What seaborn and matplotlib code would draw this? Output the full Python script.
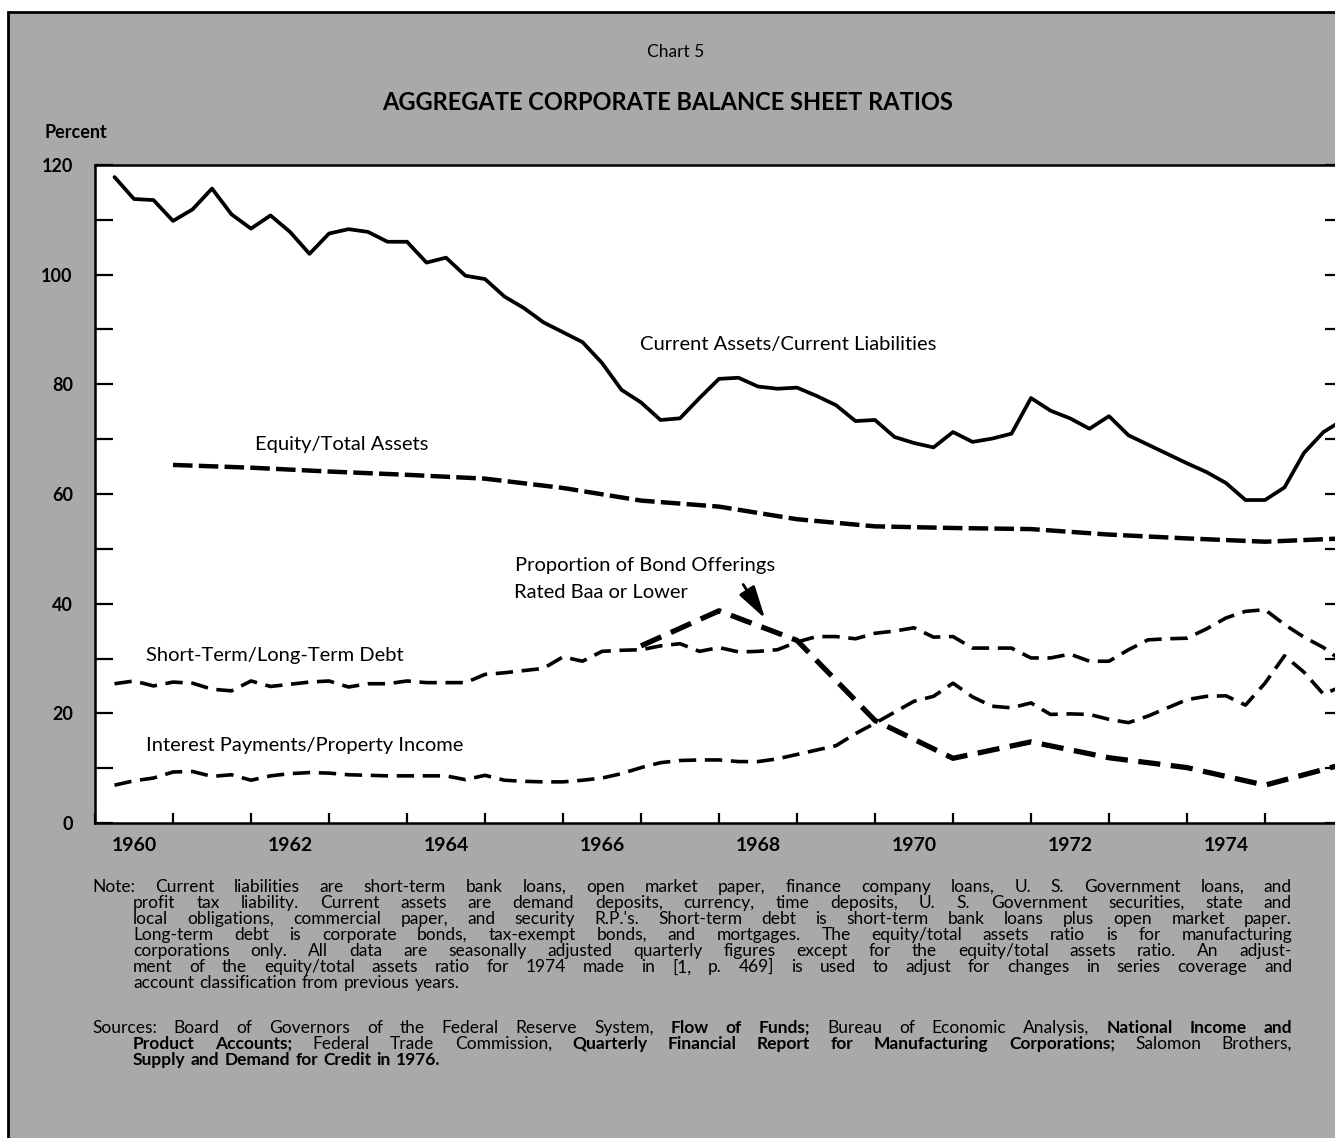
import numpy as np
import pandas as pd
import matplotlib
matplotlib.use('Agg')
import matplotlib.pyplot as plt
import seaborn as sns
from matplotlib.patches import Rectangle

# ---- data ----
# quarterly series, first point = 1960 Q1
quarter_x = np.arange(1960.25, 1976.01, 0.25)

current_ratio = [117.8, 113.8, 113.6, 109.8, 111.9, 115.7, 111.0, 108.4, 110.8, 107.8,
                 103.8, 107.5, 108.3, 107.8, 106.0, 106.0, 102.2, 103.1, 99.8, 99.2,
                 96.0, 93.9, 91.3, 89.5, 87.7, 83.9, 79.0, 76.7, 73.5, 73.8,
                 77.5, 81.0, 81.2, 79.6, 79.2, 79.4, 77.9, 76.2, 73.3, 73.5,
                 70.4, 69.3, 68.5, 71.3, 69.5, 70.1, 71.0, 77.5, 75.2, 73.8,
                 71.9, 74.2, 70.7, 69.0, 67.3, 65.6, 64.0, 62.0, 58.9, 58.9,
                 61.2, 67.5, 71.3, 73.5]

short_long_debt = [25.4, 25.9, 25.0, 25.7, 25.5, 24.4, 24.1, 25.9, 24.9, 25.3,
                   25.7, 25.9, 24.8, 25.4, 25.4, 25.9, 25.6, 25.6, 25.6, 27.1,
                   27.4, 27.8, 28.2, 30.3, 29.5, 31.3, 31.5, 31.6, 32.3, 32.7,
                   31.3, 32.0, 31.2, 31.3, 31.6, 33.0, 34.0, 34.0, 33.6, 34.6,
                   35.0, 35.6, 33.9, 34.0, 31.9, 31.9, 31.9, 30.1, 30.1, 30.8,
                   29.5, 29.5, 31.6, 33.4, 33.6, 33.7, 35.4, 37.4, 38.6, 38.9,
                   36.2, 33.9, 32.0, 29.4]

interest_income = [6.9, 7.7, 8.2, 9.3, 9.4, 8.5, 8.8, 7.8, 8.6, 9.0,
                   9.2, 9.1, 8.8, 8.7, 8.6, 8.6, 8.6, 8.6, 7.9, 8.7,
                   7.8, 7.6, 7.5, 7.5, 7.8, 8.2, 9.0, 10.1, 11.0, 11.4,
                   11.5, 11.5, 11.2, 11.2, 11.7, 12.5, 13.3, 14.1, 16.3, 18.2,
                   20.2, 22.2, 23.1, 25.5, 23.0, 21.3, 21.0, 21.9, 19.8, 19.9,
                   19.8, 18.9, 18.3, 19.5, 21.0, 22.5, 23.1, 23.2, 21.5, 25.5,
                   30.5, 27.5, 23.5, 25.0]

# annual series
equity_years = list(range(1961, 1977))
equity_assets = [65.3, 64.8, 64.1, 63.5, 62.8, 61.1, 58.8, 57.7, 55.4, 54.1,
                 53.8, 53.6, 52.6, 51.9, 51.3, 51.9]

bond_years = list(range(1967, 1977))
bond_baa = [32.3, 38.7, 33.3, 18.7, 11.8, 14.8, 11.9, 10.1, 6.9, 10.7]

year_labels = ['1960', '1962', '1964', '1966', '1968', '1970', '1972', '1974']

note_lines = [
    "Note:  Current liabilities are short-term bank loans, open market paper, finance company loans, U. S. Government loans, and",
    "profit tax liability.  Current assets are demand deposits, currency, time deposits, U. S. Government securities, state and",
    "local obligations, commercial paper, and security R.P.'s.  Short-term debt is short-term bank loans plus open market paper.",
    "Long-term debt is corporate bonds, tax-exempt bonds, and mortgages.  The equity/total assets ratio is for manufacturing",
    "corporations only.  All data are seasonally adjusted quarterly figures except for the equity/total assets ratio.  An adjust-",
    "ment of the equity/total assets ratio for 1974 made in [1, p. 469] is used to adjust for changes in series coverage and",
    "account classification from previous years.",
]
# words starting with * are bold
source_lines = [
    "Sources:  Board of Governors of the Federal Reserve System, *Flow *of *Funds; Bureau of Economic Analysis, *National *Income *and",
    "*Product *Accounts; Federal Trade Commission, *Quarterly *Financial *Report *for *Manufacturing *Corporations; Salomon Brothers,",
    "*Supply *and *Demand *for *Credit *in *1976.",
]

# ---- figure ----
sns.set_style('white')
plt.rcParams['font.family'] = ['Lato', 'DejaVu Sans']
plt.rcParams['text.color'] = 'black'

W, H = 1335, 1138
fig = plt.figure(figsize=(W / 100, H / 100), dpi=100, facecolor='white')

# gray card with black frame (right/bottom edges run off the page)
fig.patches.append(Rectangle((8 / W, -0.1), 1.1, 1.1 - 12 / H, transform=fig.transFigure,
                             facecolor='#a9a9a9', edgecolor='black', lw=2, zorder=-10))

ax = fig.add_axes([95 / W, (H - 823) / H, (1343 - 95) / W, (823 - 165) / H])
ax.set_facecolor('white')

sns.lineplot(x=quarter_x, y=current_ratio, ax=ax, color='black', linewidth=2.7,
             errorbar=None)
sns.lineplot(x=equity_years, y=equity_assets, ax=ax, color='black', linewidth=3.2,
             linestyle=(0, (4.4, 1.4)), errorbar=None)
sns.lineplot(x=quarter_x, y=short_long_debt, ax=ax, color='black', linewidth=2.6,
             linestyle=(0, (4.8, 2.4)), errorbar=None)
sns.lineplot(x=quarter_x, y=interest_income, ax=ax, color='black', linewidth=2.6,
             linestyle=(0, (4.8, 2.4)), errorbar=None)
sns.lineplot(x=bond_years, y=bond_baa, ax=ax, color='black', linewidth=3.8,
             linestyle=(0, (4.2, 2.0)), errorbar=None)

ax.set_xlim(1960, 1976)
ax.set_ylim(0, 120)
ax.set_xlabel('')
ax.set_ylabel('')

for s in ax.spines.values():
    s.set_color('black')
    s.set_linewidth(1.8)

yt = list(range(0, 121, 10))
ax.set_yticks(yt)
ax.set_yticklabels([str(v) if v % 20 == 0 else '' for v in yt])
ax.tick_params(axis='y', direction='in', length=13, width=1.6, left=True, right=True,
               labelsize=13, pad=16, colors='black')

ax.set_xticks(range(1960, 1977))
ax.set_xticklabels([])
ax.set_xticks([int(y) + 0.5 for y in year_labels], minor=True)
ax.set_xticklabels(year_labels, minor=True)
ax.tick_params(axis='x', which='major', direction='in', length=7.5, width=1.6,
               bottom=True, colors='black')
ax.tick_params(axis='x', which='minor', length=0, pad=10, labelsize=14, colors='black')
for t in ax.get_xticklabels(minor=True) + ax.get_yticklabels():
    t.set_fontweight('bold')

# inline series labels
lab = dict(fontsize=14.5, color='black', va='center', ha='left')
ax.text(1966.99, 87.3, 'Current Assets/Current Liabilities', **lab)
ax.text(1962.05, 69.1, 'Equity/Total Assets', **lab)
ax.text(1965.38, 46.9, 'Proportion of Bond Offerings', **lab)
ax.text(1965.37, 42.0, 'Rated Baa or Lower', **lab)
ax.text(1960.65, 30.5, 'Short-Term/Long-Term Debt', **lab)
ax.text(1960.65, 14.2, 'Interest Payments/Property Income', **lab)
ax.annotate('', xy=(1968.59, 37.3), xytext=(1968.31, 43.5),
            arrowprops=dict(arrowstyle='-|>,head_length=2.0,head_width=0.55',
                            color='black', lw=2, shrinkA=0, shrinkB=0))

# titles
fig.text(676 / W, 1 - 52 / H, 'Chart 5', fontsize=12.5, ha='center', va='center')
fig.text(668 / W, 1 - 103 / H, 'AGGREGATE CORPORATE BALANCE SHEET RATIOS',
         fontsize=17, fontweight='bold', ha='center', va='center')
fig.text(45 / W, 1 - 133 / H, 'Percent', fontsize=13, fontweight='bold',
         ha='left', va='center')

# justified footnote text
renderer = fig.canvas.get_renderer()


def put_line(line, py, x0, x1, size, justify=True):
    items = []
    for w in line.split():
        bold = w.startswith('*')
        t = fig.text(x0 / W, 1 - py / H, w.lstrip('*'), fontsize=size,
                     fontweight='bold' if bold else 'normal', ha='left', va='center')
        items.append(t)
    widths = [t.get_window_extent(renderer).width for t in items]
    if justify and len(items) > 1:
        gap = (x1 - x0 - sum(widths)) / (len(items) - 1)
    else:
        gap = size * 100 / 72 * 0.3
    x = x0
    for t, w in zip(items, widths):
        t.set_x(x / W)
        x += w + gap


note_y = 887
for i, line in enumerate(note_lines):
    x0 = 92 if i == 0 else 133
    put_line(line, note_y + 16 * i, x0, 1292, 12.5, justify=(i < len(note_lines) - 1))

src_y = 1028
for i, line in enumerate(source_lines):
    x0 = 92 if i == 0 else 133
    put_line(line, src_y + 16 * i, x0, 1292, 12.5, justify=(i < len(source_lines) - 1))

fig.savefig('out.png', dpi=100, facecolor='white')
